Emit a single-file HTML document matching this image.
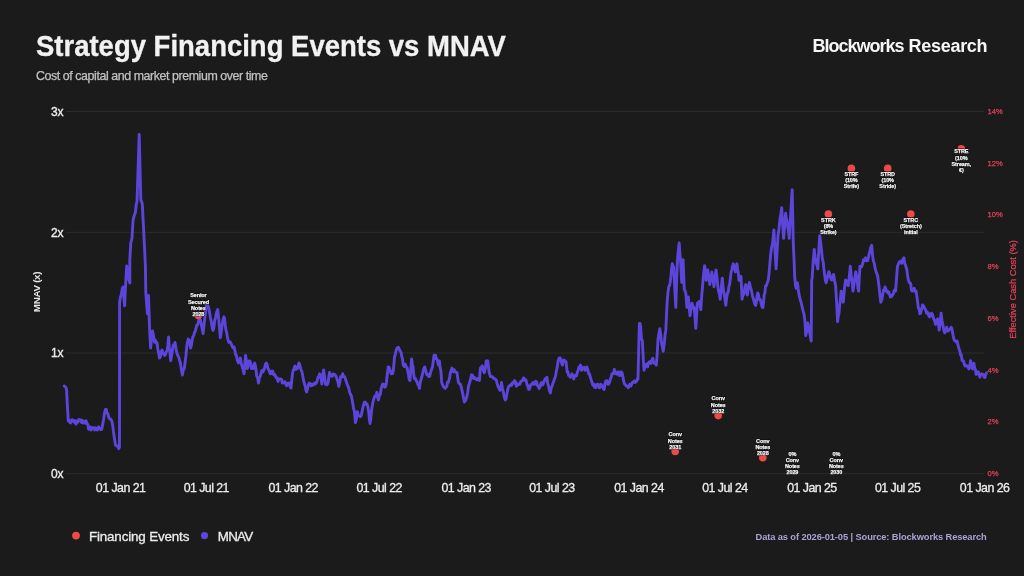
<!DOCTYPE html>
<html><head><meta charset="utf-8"><title>Strategy Financing Events vs MNAV</title>
<style>
html,body{margin:0;padding:0;background:#1b1b1b;}
body{width:1024px;height:576px;overflow:hidden;position:relative;font-family:"Liberation Sans",Arial,sans-serif;}
svg{position:absolute;left:0;top:0;display:block;}
.ml{font-family:"Liberation Sans",Arial,sans-serif;font-weight:700;font-size:5.5px;letter-spacing:-0.1px;fill:#000;stroke:#000;stroke-width:1.1px;stroke-linejoin:round;}
.mw{font-family:"Liberation Sans",Arial,sans-serif;font-weight:700;font-size:5.5px;letter-spacing:-0.1px;fill:#f6f6f6;stroke:#f6f6f6;stroke-width:0.25px;stroke-linejoin:round;}
</style></head>
<body>
<svg width="1024" height="576" viewBox="0 0 1024 576">
<rect x="0" y="0" width="1024" height="576" fill="#1b1b1b"/>
<text transform="translate(36,55.8) scale(1,1.09)" x="0" y="0" font-family="Liberation Sans, Arial, sans-serif" font-weight="700" font-size="27.5" stroke="#f2f2f2" stroke-width="0.3" fill="#f2f2f2">Strategy Financing Events vs MNAV</text>
<text x="36" y="79.6" font-family="Liberation Sans, Arial, sans-serif" font-size="12.4" letter-spacing="-0.42" stroke="#c2c2c2" stroke-width="0.25" fill="#c2c2c2">Cost of capital and market premium over time</text>
<text y="52" font-family="Liberation Sans, Arial, sans-serif" font-weight="700" font-size="18" fill="#f6f6f6"><tspan x="812.6" letter-spacing="-1.0">Blockworks</tspan> <tspan x="908.6" letter-spacing="-0.3">Research</tspan></text>

<line x1="66" y1="111.5" x2="984" y2="111.5" stroke="#2c2c2c" stroke-width="1"/>
<line x1="66" y1="232.3" x2="984" y2="232.3" stroke="#2c2c2c" stroke-width="1"/>
<line x1="66" y1="353.0" x2="984" y2="353.0" stroke="#2c2c2c" stroke-width="1"/>
<line x1="66" y1="473.7" x2="984" y2="473.7" stroke="#2c2c2c" stroke-width="1"/>
<text x="63.6" y="115.8" text-anchor="end" font-family="Liberation Sans, Arial, sans-serif" font-size="12" stroke="#ececec" stroke-width="0.35" fill="#ececec">3x</text>
<text x="63.6" y="236.6" text-anchor="end" font-family="Liberation Sans, Arial, sans-serif" font-size="12" stroke="#ececec" stroke-width="0.35" fill="#ececec">2x</text>
<text x="63.6" y="357.3" text-anchor="end" font-family="Liberation Sans, Arial, sans-serif" font-size="12" stroke="#ececec" stroke-width="0.35" fill="#ececec">1x</text>
<text x="63.6" y="478.0" text-anchor="end" font-family="Liberation Sans, Arial, sans-serif" font-size="12" stroke="#ececec" stroke-width="0.35" fill="#ececec">0x</text>
<text x="987.6" y="476.0" font-family="Liberation Sans, Arial, sans-serif" font-size="7.6" stroke="#e0405a" stroke-width="0.25" fill="#e0405a">0%</text>
<text x="987.6" y="424.3" font-family="Liberation Sans, Arial, sans-serif" font-size="7.6" stroke="#e0405a" stroke-width="0.25" fill="#e0405a">2%</text>
<text x="987.6" y="372.5" font-family="Liberation Sans, Arial, sans-serif" font-size="7.6" stroke="#e0405a" stroke-width="0.25" fill="#e0405a">4%</text>
<text x="987.6" y="320.8" font-family="Liberation Sans, Arial, sans-serif" font-size="7.6" stroke="#e0405a" stroke-width="0.25" fill="#e0405a">6%</text>
<text x="987.6" y="269.0" font-family="Liberation Sans, Arial, sans-serif" font-size="7.6" stroke="#e0405a" stroke-width="0.25" fill="#e0405a">8%</text>
<text x="987.6" y="217.3" font-family="Liberation Sans, Arial, sans-serif" font-size="7.6" stroke="#e0405a" stroke-width="0.25" fill="#e0405a">10%</text>
<text x="987.6" y="165.5" font-family="Liberation Sans, Arial, sans-serif" font-size="7.6" stroke="#e0405a" stroke-width="0.25" fill="#e0405a">12%</text>
<text x="987.6" y="113.8" font-family="Liberation Sans, Arial, sans-serif" font-size="7.6" stroke="#e0405a" stroke-width="0.25" fill="#e0405a">14%</text>
<text transform="translate(40,292) rotate(-90)" text-anchor="middle" font-family="Liberation Sans, Arial, sans-serif" font-weight="700" font-size="9.8" letter-spacing="-0.3" fill="#e8e8e8">MNAV (x)</text>
<text transform="translate(1016.4,289.4) rotate(-90)" text-anchor="middle" font-family="Liberation Sans, Arial, sans-serif" font-size="9.3" stroke="#e0405a" stroke-width="0.25" fill="#e0405a">Effective Cash Cost (%)</text>
<text x="120.6" y="491.6" text-anchor="middle" font-family="Liberation Sans, Arial, sans-serif" font-size="12.4" letter-spacing="-0.55" stroke="#ececec" stroke-width="0.3" fill="#ececec">01 Jan 21</text>
<text x="206.3" y="491.6" text-anchor="middle" font-family="Liberation Sans, Arial, sans-serif" font-size="12.4" letter-spacing="-0.55" stroke="#ececec" stroke-width="0.3" fill="#ececec">01 Jul 21</text>
<text x="293.2" y="491.6" text-anchor="middle" font-family="Liberation Sans, Arial, sans-serif" font-size="12.4" letter-spacing="-0.55" stroke="#ececec" stroke-width="0.3" fill="#ececec">01 Jan 22</text>
<text x="379.2" y="491.6" text-anchor="middle" font-family="Liberation Sans, Arial, sans-serif" font-size="12.4" letter-spacing="-0.55" stroke="#ececec" stroke-width="0.3" fill="#ececec">01 Jul 22</text>
<text x="466.2" y="491.6" text-anchor="middle" font-family="Liberation Sans, Arial, sans-serif" font-size="12.4" letter-spacing="-0.55" stroke="#ececec" stroke-width="0.3" fill="#ececec">01 Jan 23</text>
<text x="551.9" y="491.6" text-anchor="middle" font-family="Liberation Sans, Arial, sans-serif" font-size="12.4" letter-spacing="-0.55" stroke="#ececec" stroke-width="0.3" fill="#ececec">01 Jul 23</text>
<text x="639.0" y="491.6" text-anchor="middle" font-family="Liberation Sans, Arial, sans-serif" font-size="12.4" letter-spacing="-0.55" stroke="#ececec" stroke-width="0.3" fill="#ececec">01 Jan 24</text>
<text x="724.9" y="491.6" text-anchor="middle" font-family="Liberation Sans, Arial, sans-serif" font-size="12.4" letter-spacing="-0.55" stroke="#ececec" stroke-width="0.3" fill="#ececec">01 Jul 24</text>
<text x="811.9" y="491.6" text-anchor="middle" font-family="Liberation Sans, Arial, sans-serif" font-size="12.4" letter-spacing="-0.55" stroke="#ececec" stroke-width="0.3" fill="#ececec">01 Jan 25</text>
<text x="897.6" y="491.6" text-anchor="middle" font-family="Liberation Sans, Arial, sans-serif" font-size="12.4" letter-spacing="-0.55" stroke="#ececec" stroke-width="0.3" fill="#ececec">01 Jul 25</text>
<text x="984.6" y="491.6" text-anchor="middle" font-family="Liberation Sans, Arial, sans-serif" font-size="12.4" letter-spacing="-0.55" stroke="#ececec" stroke-width="0.3" fill="#ececec">01 Jan 26</text>
<path d="M64.3,386.0 L65.1,386.6 L65.8,387.1 L66.6,390.0 L67.4,406.1 L68.3,420.8 L69.0,419.7 L69.7,422.4 L70.4,423.0 L71.3,421.7 L72.1,419.7 L73.0,421.0 L73.8,421.8 L74.5,420.5 L75.2,423.0 L76.0,424.0 L77.0,421.1 L78.0,422.0 L78.9,419.5 L79.9,420.3 L80.8,420.0 L81.5,422.4 L82.3,420.3 L83.0,423.0 L83.8,421.2 L84.5,422.5 L85.2,423.3 L86.0,420.8 L86.9,423.3 L87.8,424.6 L88.6,429.3 L89.5,429.4 L90.3,426.9 L91.2,430.0 L92.0,428.0 L92.9,427.7 L93.8,427.8 L94.7,430.0 L95.5,427.8 L96.3,428.2 L97.2,429.9 L98.0,428.0 L98.7,426.9 L99.5,428.9 L100.2,429.5 L101.0,428.6 L101.7,429.4 L102.6,424.9 L103.5,420.0 L104.5,412.8 L105.5,409.5 L106.2,409.3 L107.0,413.0 L107.8,413.7 L108.6,417.0 L109.5,418.8 L110.5,419.0 L111.2,420.0 L112.0,421.6 L112.8,426.0 L113.5,432.0 L114.5,438.9 L115.5,445.0 L116.4,445.7 L117.3,445.9 L118.2,447.7 L118.8,448.6 L119.5,447.0 L119.6,303.0 L120.4,297.5 L121.2,294.9 L122.1,289.4 L122.9,287.0 L123.8,296.7 L124.6,305.8 L125.6,285.0 L126.7,266.0 L127.5,270.4 L128.2,276.2 L129.0,279.8 L129.8,283.0 L129.8,260.0 L130.8,243.0 L132.0,238.0 L133.0,221.0 L133.8,216.9 L134.6,214.6 L135.4,212.5 L136.2,204.5 L137.0,202.0 L139.2,134.4 L140.8,200.0 L141.6,201.6 L142.3,204.0 L144.4,245.0 L145.4,266.0 L145.8,293.0 L146.7,304.6 L147.5,314.0 L148.5,295.4 L149.6,328.8 L150.6,348.0 L151.6,338.0 L152.6,331.0 L153.6,336.5 L154.5,342.0 L155.3,340.1 L156.2,343.1 L157.0,342.5 L157.8,348.8 L158.7,353.2 L159.5,358.0 L160.3,357.0 L161.2,351.8 L162.0,350.0 L162.9,352.7 L163.8,354.1 L164.7,355.5 L165.6,354.0 L166.4,351.6 L167.3,350.0 L167.9,345.0 L168.6,337.0 L169.3,346.9 L170.0,352.7 L170.7,360.7 L171.6,355.6 L172.6,349.0 L173.4,344.9 L174.2,345.6 L175.0,342.5 L175.7,346.4 L176.4,351.2 L177.1,353.7 L177.8,355.5 L178.7,357.1 L179.5,360.0 L180.4,363.0 L181.4,369.7 L182.4,375.0 L183.4,369.6 L184.3,368.5 L185.1,362.1 L185.9,356.0 L186.7,347.4 L187.5,341.8 L188.2,339.1 L189.0,339.8 L189.8,341.9 L190.6,348.0 L191.3,345.6 L192.1,340.8 L192.9,336.6 L193.7,335.6 L194.5,332.4 L195.3,331.4 L196.1,327.8 L196.8,325.2 L197.6,325.0 L198.4,321.5 L199.6,318.5 L200.6,320.4 L201.5,326.0 L202.3,329.5 L203.1,333.5 L203.9,326.0 L204.8,318.0 L205.5,313.4 L206.2,305.4 L206.9,307.1 L207.6,307.7 L208.3,306.4 L209.0,309.3 L209.8,313.8 L210.5,318.0 L211.3,321.5 L212.2,328.0 L213.0,330.4 L213.8,328.3 L214.7,320.6 L215.5,318.0 L216.2,313.7 L217.0,311.2 L217.7,309.5 L218.3,314.6 L219.0,322.0 L219.7,329.8 L220.3,337.7 L221.2,332.2 L222.0,326.0 L222.9,320.4 L223.9,316.8 L224.6,319.0 L225.3,325.2 L226.0,330.0 L226.7,332.7 L227.4,336.8 L228.1,339.8 L228.8,342.4 L229.5,342.0 L230.2,341.8 L231.0,343.4 L231.8,345.4 L232.5,347.2 L233.3,348.0 L234.1,347.0 L234.8,350.0 L235.6,354.5 L236.4,355.5 L237.4,360.5 L238.4,363.0 L239.4,362.1 L240.3,358.0 L241.2,363.3 L242.0,366.0 L243.0,369.4 L244.0,373.8 L244.8,364.2 L245.5,355.5 L246.4,360.3 L247.3,368.5 L248.0,366.5 L248.7,361.4 L249.4,360.7 L250.1,361.4 L250.8,364.6 L251.5,368.5 L252.4,367.0 L253.3,368.5 L253.9,365.0 L254.6,363.0 L255.3,365.4 L256.0,369.5 L256.7,376.0 L257.6,378.0 L258.5,383.0 L259.4,377.7 L260.3,376.0 L261.0,373.7 L261.7,370.6 L262.4,371.0 L263.1,371.8 L263.8,369.8 L264.5,368.5 L265.4,364.2 L266.3,363.0 L267.1,364.7 L268.0,368.5 L268.7,369.6 L269.5,371.4 L270.2,373.8 L271.1,371.2 L271.9,373.5 L272.8,371.0 L273.7,374.8 L274.5,374.2 L275.4,376.0 L276.3,377.8 L277.1,377.8 L278.0,381.5 L278.9,378.9 L279.7,379.1 L280.6,379.0 L281.5,379.3 L282.3,383.1 L283.2,383.0 L284.1,381.8 L284.9,381.6 L285.8,384.0 L286.7,385.7 L287.5,383.5 L288.4,383.0 L289.3,383.1 L290.1,386.5 L291.0,388.0 L292.0,377.4 L293.0,371.0 L294.0,368.6 L295.0,366.0 L295.9,369.4 L296.8,368.5 L297.5,368.3 L298.2,365.7 L298.9,363.0 L299.6,364.3 L300.3,367.1 L301.0,370.0 L301.9,371.5 L302.8,376.0 L303.7,381.2 L304.6,384.0 L305.3,386.8 L306.0,390.6 L306.7,392.0 L307.6,388.3 L308.4,384.8 L309.3,383.0 L310.2,384.7 L311.1,385.8 L312.0,384.0 L312.8,385.2 L313.7,384.7 L314.5,383.0 L315.3,383.9 L316.2,383.1 L317.0,381.5 L317.9,377.7 L318.8,376.4 L319.7,373.8 L320.4,376.5 L321.1,378.5 L321.8,384.0 L322.7,374.9 L323.6,370.0 L324.5,376.0 L325.4,384.0 L326.1,382.9 L326.8,384.8 L327.5,384.0 L328.2,382.1 L328.9,376.0 L329.6,372.4 L330.0,373.7 L330.8,375.8 L331.6,376.2 L332.3,376.3 L333.1,373.9 L333.9,374.7 L334.6,374.4 L335.4,375.4 L336.1,376.3 L336.8,378.6 L337.8,381.2 L338.8,386.4 L339.8,382.0 L340.7,376.6 L341.7,376.9 L342.7,373.7 L343.6,376.6 L344.6,376.6 L345.6,379.5 L346.6,382.5 L347.6,385.6 L348.6,387.4 L349.6,392.1 L350.5,394.2 L351.5,396.3 L352.5,402.0 L353.4,407.6 L354.4,411.8 L355.4,422.5 L356.4,419.0 L357.3,411.8 L358.3,415.0 L359.3,415.7 L360.3,416.8 L361.2,415.7 L362.2,410.8 L363.2,406.0 L364.2,402.6 L365.2,402.0 L366.1,404.3 L367.1,404.0 L367.9,407.2 L368.7,411.8 L369.4,419.0 L370.0,423.5 L370.7,419.7 L371.4,411.8 L372.2,406.4 L373.0,402.0 L373.9,398.6 L374.9,396.0 L375.9,396.1 L376.9,392.3 L377.6,397.1 L378.4,400.0 L379.4,395.6 L380.4,394.2 L381.1,388.7 L381.8,386.4 L382.8,383.9 L383.7,384.5 L384.7,387.2 L385.7,386.4 L386.4,382.8 L387.0,376.6 L388.2,366.9 L389.2,367.3 L390.2,370.8 L391.1,373.7 L392.1,373.7 L392.8,373.4 L393.5,368.8 L394.5,357.0 L395.4,353.8 L396.4,349.3 L397.4,347.6 L398.4,347.3 L399.4,349.5 L400.3,351.2 L401.1,352.5 L401.9,357.0 L402.5,358.9 L403.2,365.0 L404.2,366.6 L405.2,364.0 L406.1,366.6 L407.1,367.9 L407.8,371.4 L408.5,374.7 L409.2,379.5 L410.0,380.5 L410.8,369.5 L411.6,359.0 L412.3,364.6 L413.0,366.9 L413.7,374.2 L414.4,378.6 L415.2,378.3 L416.0,380.5 L416.9,381.4 L417.9,384.5 L418.7,385.5 L419.5,388.4 L420.1,383.3 L420.8,380.5 L421.8,377.0 L422.8,372.7 L423.8,368.7 L424.7,366.9 L425.7,370.4 L426.7,374.7 L427.6,374.0 L428.6,376.6 L429.6,376.5 L430.6,372.7 L431.6,369.2 L432.5,366.9 L433.3,360.9 L434.1,355.2 L434.8,355.6 L435.5,355.2 L436.2,358.9 L437.0,359.0 L437.7,361.7 L438.4,365.0 L439.4,361.0 L440.1,367.7 L440.9,370.8 L441.7,382.5 L442.5,384.5 L443.3,386.4 L444.2,387.5 L445.2,388.4 L446.0,387.5 L446.8,386.4 L447.5,382.3 L448.2,382.5 L448.9,380.3 L449.5,378.6 L450.3,373.3 L451.1,370.8 L451.9,368.1 L452.7,369.8 L453.5,371.8 L454.2,369.7 L455.0,371.8 L456.0,372.1 L457.0,372.7 L457.8,378.6 L458.5,382.5 L459.5,383.7 L460.5,384.5 L461.4,387.6 L462.4,392.3 L463.4,397.2 L464.4,402.0 L465.0,401.2 L465.7,400.0 L466.7,397.4 L467.7,392.3 L468.6,385.7 L469.6,382.5 L470.6,378.9 L471.6,374.7 L472.6,375.5 L473.6,378.6 L474.6,377.6 L475.5,378.6 L476.5,379.8 L477.5,378.6 L478.4,379.6 L479.4,380.5 L480.4,367.9 L481.4,367.2 L482.3,365.9 L483.3,370.4 L484.3,372.7 L485.3,368.7 L486.2,361.0 L487.0,360.8 L487.8,361.0 L488.5,367.3 L489.2,372.7 L489.9,374.7 L490.5,376.6 L491.5,376.7 L492.5,376.6 L493.5,378.4 L494.5,378.6 L495.4,379.3 L496.4,380.5 L497.2,383.6 L498.0,386.4 L499.0,388.3 L500.0,390.3 L500.8,388.3 L501.5,382.5 L502.4,388.3 L503.4,392.3 L504.4,397.8 L505.4,400.0 L506.1,399.0 L506.8,394.2 L507.8,389.2 L508.7,386.4 L509.7,385.7 L510.7,384.5 L511.6,385.5 L512.6,382.5 L513.6,383.0 L514.6,380.5 L515.5,381.9 L516.5,386.4 L517.5,383.8 L518.5,384.5 L519.2,384.1 L520.0,384.2 L520.9,381.2 L521.7,380.8 L522.6,380.8 L523.5,378.0 L524.3,379.0 L525.1,380.2 L526.0,380.0 L526.9,384.2 L527.8,386.0 L528.6,389.4 L529.5,389.4 L530.4,385.3 L531.3,384.2 L532.1,384.3 L533.0,382.5 L533.9,384.1 L534.8,384.2 L535.6,381.3 L536.5,381.6 L537.4,385.5 L538.2,386.0 L539.1,388.5 L540.0,386.8 L540.9,383.4 L541.7,382.5 L542.5,384.9 L543.4,383.4 L544.3,380.8 L545.2,379.0 L546.0,378.1 L546.9,377.3 L547.8,383.8 L548.6,386.0 L549.5,391.0 L550.4,393.0 L551.2,388.0 L552.1,386.0 L553.0,383.1 L553.9,380.8 L554.8,378.3 L555.6,375.6 L556.5,370.5 L557.3,366.9 L558.1,361.2 L559.0,358.2 L559.9,357.8 L560.8,359.0 L561.6,363.0 L562.5,365.1 L563.4,360.4 L564.3,360.0 L565.1,361.1 L566.0,361.7 L566.6,366.6 L567.2,372.0 L567.9,371.7 L568.6,375.6 L569.5,375.7 L570.3,377.3 L571.1,376.1 L572.0,373.8 L572.9,376.5 L573.8,379.0 L574.7,375.4 L575.6,375.6 L576.5,375.9 L577.3,372.0 L578.1,370.7 L579.0,366.9 L579.7,368.0 L580.4,365.0 L581.0,365.9 L581.6,370.3 L582.5,368.4 L583.4,368.6 L584.2,367.4 L585.1,370.3 L586.0,369.8 L586.8,366.9 L587.7,369.3 L588.6,373.8 L589.5,373.9 L590.3,377.3 L591.1,379.6 L592.0,382.5 L592.9,385.2 L593.8,384.2 L594.6,387.4 L595.5,387.7 L596.4,384.9 L597.3,384.2 L598.1,384.4 L599.0,387.7 L599.9,387.8 L600.7,384.2 L601.6,385.4 L602.5,386.0 L603.4,388.6 L604.2,389.4 L605.0,383.3 L605.9,380.8 L606.8,380.6 L607.7,384.2 L608.5,384.2 L609.4,382.5 L610.2,379.6 L611.1,377.3 L612.0,373.7 L612.9,373.8 L613.6,373.6 L614.3,369.5 L615.1,372.2 L616.0,373.8 L616.9,374.2 L617.7,372.0 L618.6,372.0 L619.5,375.6 L620.4,375.4 L621.2,372.0 L622.1,372.7 L623.0,377.3 L623.9,382.3 L624.7,384.2 L625.5,384.9 L626.4,386.0 L627.3,386.1 L628.2,387.7 L629.0,386.2 L629.9,384.2 L630.8,386.1 L631.6,384.2 L632.5,382.3 L633.4,382.5 L634.2,380.9 L635.1,382.5 L636.0,381.8 L636.8,380.8 L637.4,378.7 L638.0,379.0 L638.9,340.8 L639.4,323.5 L640.0,323.5 L640.7,327.0 L641.5,339.0 L642.4,340.8 L643.3,360.0 L644.1,370.3 L645.0,366.2 L645.9,365.0 L646.8,364.0 L647.6,366.9 L648.5,363.0 L649.3,361.7 L650.1,361.7 L651.0,363.4 L651.9,359.9 L652.8,358.2 L653.6,361.9 L654.5,363.4 L655.4,363.3 L656.3,365.0 L657.2,354.7 L658.0,339.0 L658.9,333.9 L659.8,328.7 L660.6,334.2 L661.5,342.6 L662.4,346.3 L663.2,351.2 L664.4,342.6 L665.1,334.4 L665.8,330.4 L666.5,315.8 L667.1,303.3 L667.9,292.9 L668.8,286.7 L669.5,285.6 L670.2,282.5 L670.9,276.5 L671.6,268.6 L672.3,263.8 L673.0,265.8 L673.8,268.0 L674.4,282.4 L675.0,293.0 L675.8,307.5 L676.7,278.3 L677.5,259.6 L678.4,249.6 L679.2,243.0 L679.9,253.8 L680.6,261.7 L681.7,282.5 L682.4,270.8 L683.1,259.6 L684.2,288.8 L685.0,290.9 L685.8,293.0 L686.9,307.5 L687.6,303.7 L688.3,297.0 L689.1,305.9 L690.0,315.8 L691.0,309.6 L692.0,303.3 L692.7,305.5 L693.5,308.2 L694.2,307.5 L695.0,317.2 L695.8,328.3 L696.5,317.3 L697.3,303.3 L698.0,303.5 L698.7,302.5 L699.4,301.2 L700.1,305.0 L700.8,309.6 L701.6,297.5 L702.5,286.7 L703.2,277.8 L703.9,271.1 L704.6,265.8 L705.4,271.2 L706.2,280.4 L707.0,276.3 L707.7,270.0 L708.4,273.8 L709.1,278.3 L709.8,284.6 L710.5,278.6 L711.2,277.7 L711.9,272.0 L712.6,278.5 L713.3,282.6 L714.0,286.7 L715.0,277.4 L716.0,270.0 L716.7,275.1 L717.4,281.6 L718.1,288.8 L718.8,292.1 L719.5,294.2 L720.2,299.2 L720.9,292.0 L721.6,284.2 L722.3,278.3 L723.0,285.9 L723.7,291.5 L724.4,295.0 L725.1,300.4 L725.8,305.4 L726.6,298.0 L727.5,292.9 L728.2,292.2 L728.9,286.5 L729.6,284.6 L730.3,279.1 L731.0,272.7 L731.7,270.0 L732.5,266.4 L733.3,263.8 L734.0,266.4 L734.7,269.3 L735.4,272.0 L736.1,266.6 L736.9,263.8 L737.6,269.3 L738.3,272.7 L739.0,280.4 L740.0,277.3 L741.0,276.2 L742.1,299.2 L742.8,295.3 L743.5,294.6 L744.2,292.9 L745.0,286.7 L745.8,284.6 L746.5,287.7 L747.3,295.0 L748.0,290.0 L748.7,285.5 L749.4,282.5 L750.1,285.6 L750.8,288.2 L751.5,290.8 L752.5,296.1 L753.5,299.2 L754.2,302.0 L754.9,304.3 L755.6,305.4 L756.3,302.9 L757.0,296.6 L757.7,292.9 L758.4,294.2 L759.1,299.2 L759.8,299.2 L760.4,299.6 L761.0,303.0 L761.9,306.4 L762.8,307.8 L763.5,302.9 L764.2,294.7 L764.9,292.6 L765.6,285.6 L766.5,285.5 L767.4,282.4 L768.3,280.0 L769.1,272.7 L769.8,264.7 L770.6,255.0 L771.5,247.9 L772.5,243.9 L773.2,237.1 L773.9,230.0 L774.6,243.0 L775.4,257.4 L776.1,268.9 L777.0,253.6 L778.0,235.6 L779.0,228.7 L780.0,218.9 L780.9,213.7 L781.7,207.8 L782.7,224.8 L783.6,238.3 L784.6,226.6 L785.6,213.3 L786.3,218.8 L787.1,221.4 L787.8,227.2 L788.5,230.7 L789.2,238.3 L789.9,225.5 L790.6,216.0 L791.4,202.2 L792.2,189.7 L793.3,243.9 L794.0,258.8 L794.7,277.2 L795.4,284.2 L796.1,288.3 L796.8,285.8 L797.5,282.8 L798.2,288.9 L798.9,293.9 L799.6,297.2 L800.4,300.2 L801.1,302.2 L802.0,306.4 L803.0,310.6 L804.0,314.0 L805.0,321.7 L805.7,335.6 L806.4,332.7 L807.1,328.3 L807.8,323.0 L808.5,326.5 L809.2,330.0 L809.9,333.8 L810.6,338.0 L811.2,341.0 L811.7,280.0 L812.2,277.2 L813.2,261.4 L814.2,249.4 L815.2,257.4 L816.1,263.3 L817.0,265.0 L817.8,268.9 L818.8,250.4 L819.7,235.6 L820.7,242.9 L821.7,252.2 L822.4,258.8 L823.2,262.0 L823.9,268.9 L824.6,274.6 L825.4,280.3 L826.1,282.8 L827.0,279.1 L828.0,274.9 L828.9,271.7 L829.6,273.7 L830.3,276.7 L831.0,279.1 L831.7,280.0 L832.7,277.7 L833.6,274.4 L834.6,280.6 L835.6,285.6 L836.6,301.8 L837.6,321.7 L838.3,315.9 L839.0,313.3 L839.7,304.8 L840.4,299.6 L841.1,291.1 L841.8,293.9 L842.6,298.8 L843.3,302.2 L844.1,292.7 L844.8,285.5 L845.6,280.0 L846.5,280.8 L847.4,284.5 L848.3,285.6 L849.3,276.7 L850.3,266.1 L851.2,275.2 L852.1,281.8 L853.0,291.1 L853.9,284.7 L854.9,278.0 L855.8,271.7 L856.5,276.4 L857.2,279.7 L857.9,288.0 L858.6,291.1 L859.3,277.3 L860.0,266.1 L860.9,267.3 L861.9,266.2 L862.8,263.3 L863.5,259.8 L864.2,260.4 L864.9,260.6 L865.6,257.8 L866.3,260.8 L867.1,259.4 L867.8,260.6 L868.8,255.4 L869.7,252.2 L870.7,247.5 L871.7,245.3 L872.5,254.9 L873.3,260.6 L874.3,263.5 L875.3,268.9 L876.2,272.0 L877.2,274.4 L878.0,278.4 L878.9,285.6 L879.8,294.0 L880.8,302.2 L881.8,300.0 L882.8,293.9 L883.5,290.0 L884.3,290.6 L885.0,286.9 L885.7,288.3 L886.5,291.4 L887.2,291.1 L887.9,292.9 L888.7,291.8 L889.4,293.9 L890.4,297.0 L891.4,296.7 L892.3,295.2 L893.3,293.9 L894.1,290.9 L894.8,289.8 L895.6,291.1 L896.5,278.6 L897.5,266.1 L898.2,264.5 L899.0,262.4 L899.7,261.9 L900.7,261.0 L901.7,263.3 L902.4,260.8 L903.2,258.8 L903.9,257.8 L904.8,263.4 L905.8,266.1 L906.8,269.5 L907.8,277.2 L908.5,280.2 L909.3,282.4 L910.0,282.8 L910.7,283.9 L911.5,290.2 L912.2,291.1 L913.2,290.6 L914.2,288.3 L915.2,291.5 L916.1,291.1 L916.8,295.7 L917.6,301.7 L918.3,307.8 L919.1,309.2 L919.8,313.7 L920.6,313.3 L921.5,309.5 L922.5,305.0 L923.5,305.8 L924.4,307.8 L925.2,309.3 L925.9,310.5 L926.7,313.3 L927.4,312.2 L928.2,313.4 L928.9,316.1 L929.6,316.9 L930.3,313.8 L931.0,315.9 L931.7,313.3 L932.7,315.0 L933.6,318.9 L934.6,320.6 L935.6,324.4 L936.3,322.6 L937.1,319.4 L937.8,318.9 L938.5,323.9 L939.2,330.0 L940.2,323.7 L941.1,313.3 L942.0,320.5 L942.8,324.4 L943.8,330.0 L944.7,332.8 L945.7,330.6 L946.7,327.2 L947.4,330.0 L948.2,331.0 L948.9,330.0 L949.6,329.3 L950.4,329.1 L951.1,327.2 L952.1,329.4 L953.1,335.6 L954.0,339.4 L955.0,341.1 L955.7,340.9 L956.5,342.2 L957.2,341.1 L958.2,345.9 L959.2,349.4 L959.9,351.3 L960.6,355.0 L961.3,354.9 L962.1,360.6 L962.8,360.6 L963.5,360.8 L964.3,364.1 L965.0,366.1 L966.0,365.4 L966.9,366.1 L967.9,366.6 L968.9,368.9 L969.8,365.8 L970.6,360.6 L971.5,366.8 L972.5,368.9 L973.2,365.0 L973.9,363.3 L974.6,367.7 L975.4,369.8 L976.1,374.4 L977.1,373.3 L978.1,371.7 L979.0,374.0 L980.0,377.2 L980.7,374.8 L981.5,373.8 L982.2,374.4 L983.2,374.5 L984.2,377.2 L984.9,377.6 L985.7,374.5 L986.4,373.1" fill="none" stroke="#5b45da" stroke-width="2.9" stroke-linejoin="round" stroke-linecap="round"/>
<defs><clipPath id="pa"><rect x="60" y="100" width="930" height="373.7"/></clipPath></defs>
<circle cx="198.4" cy="315.6" r="3.8" fill="#ee4848" clip-path="url(#pa)"/>
<circle cx="675.2" cy="451.5" r="3.8" fill="#ee4848" clip-path="url(#pa)"/>
<circle cx="718.2" cy="415.6" r="3.8" fill="#ee4848" clip-path="url(#pa)"/>
<circle cx="762.8" cy="457.8" r="3.8" fill="#ee4848" clip-path="url(#pa)"/>
<circle cx="792.4" cy="474.1" r="3.8" fill="#ee4848" clip-path="url(#pa)"/>
<circle cx="836.3" cy="474.1" r="3.8" fill="#ee4848" clip-path="url(#pa)"/>
<circle cx="828.4" cy="214.0" r="3.8" fill="#ee4848" clip-path="url(#pa)"/>
<circle cx="851.4" cy="168.4" r="3.8" fill="#ee4848" clip-path="url(#pa)"/>
<circle cx="887.7" cy="168.4" r="3.8" fill="#ee4848" clip-path="url(#pa)"/>
<circle cx="910.8" cy="214.0" r="3.8" fill="#ee4848" clip-path="url(#pa)"/>
<circle cx="961.3" cy="148.8" r="3.8" fill="#ee4848" clip-path="url(#pa)"/>
<text class="ml" x="198.4" y="297.3" text-anchor="middle">Senior</text>
<text class="ml" x="198.4" y="303.5" text-anchor="middle">Secured</text>
<text class="ml" x="198.4" y="309.7" text-anchor="middle">Notes</text>
<text class="ml" x="198.4" y="315.9" text-anchor="middle">2028</text>
<text class="mw" x="198.4" y="297.3" text-anchor="middle">Senior</text>
<text class="mw" x="198.4" y="303.5" text-anchor="middle">Secured</text>
<text class="mw" x="198.4" y="309.7" text-anchor="middle">Notes</text>
<text class="mw" x="198.4" y="315.9" text-anchor="middle">2028</text>
<text class="ml" x="675.2" y="436.3" text-anchor="middle">Conv</text>
<text class="ml" x="675.2" y="442.5" text-anchor="middle">Notes</text>
<text class="ml" x="675.2" y="448.7" text-anchor="middle">2031</text>
<text class="mw" x="675.2" y="436.3" text-anchor="middle">Conv</text>
<text class="mw" x="675.2" y="442.5" text-anchor="middle">Notes</text>
<text class="mw" x="675.2" y="448.7" text-anchor="middle">2031</text>
<text class="ml" x="718.2" y="400.4" text-anchor="middle">Conv</text>
<text class="ml" x="718.2" y="406.6" text-anchor="middle">Notes</text>
<text class="ml" x="718.2" y="412.8" text-anchor="middle">2032</text>
<text class="mw" x="718.2" y="400.4" text-anchor="middle">Conv</text>
<text class="mw" x="718.2" y="406.6" text-anchor="middle">Notes</text>
<text class="mw" x="718.2" y="412.8" text-anchor="middle">2032</text>
<text class="ml" x="762.8" y="442.6" text-anchor="middle">Conv</text>
<text class="ml" x="762.8" y="448.8" text-anchor="middle">Notes</text>
<text class="ml" x="762.8" y="455.0" text-anchor="middle">2028</text>
<text class="mw" x="762.8" y="442.6" text-anchor="middle">Conv</text>
<text class="mw" x="762.8" y="448.8" text-anchor="middle">Notes</text>
<text class="mw" x="762.8" y="455.0" text-anchor="middle">2028</text>
<text class="ml" x="792.4" y="455.8" text-anchor="middle">0%</text>
<text class="ml" x="792.4" y="462.0" text-anchor="middle">Conv</text>
<text class="ml" x="792.4" y="468.2" text-anchor="middle">Notes</text>
<text class="ml" x="792.4" y="474.4" text-anchor="middle">2029</text>
<text class="mw" x="792.4" y="455.8" text-anchor="middle">0%</text>
<text class="mw" x="792.4" y="462.0" text-anchor="middle">Conv</text>
<text class="mw" x="792.4" y="468.2" text-anchor="middle">Notes</text>
<text class="mw" x="792.4" y="474.4" text-anchor="middle">2029</text>
<text class="ml" x="836.3" y="455.8" text-anchor="middle">0%</text>
<text class="ml" x="836.3" y="462.0" text-anchor="middle">Conv</text>
<text class="ml" x="836.3" y="468.2" text-anchor="middle">Notes</text>
<text class="ml" x="836.3" y="474.4" text-anchor="middle">2030</text>
<text class="mw" x="836.3" y="455.8" text-anchor="middle">0%</text>
<text class="mw" x="836.3" y="462.0" text-anchor="middle">Conv</text>
<text class="mw" x="836.3" y="468.2" text-anchor="middle">Notes</text>
<text class="mw" x="836.3" y="474.4" text-anchor="middle">2030</text>
<text class="ml" x="828.4" y="221.6" text-anchor="middle">STRK</text>
<text class="ml" x="828.4" y="227.8" text-anchor="middle">(8%</text>
<text class="ml" x="828.4" y="234.0" text-anchor="middle">Strike)</text>
<text class="mw" x="828.4" y="221.6" text-anchor="middle">STRK</text>
<text class="mw" x="828.4" y="227.8" text-anchor="middle">(8%</text>
<text class="mw" x="828.4" y="234.0" text-anchor="middle">Strike)</text>
<text class="ml" x="851.4" y="176.0" text-anchor="middle">STRF</text>
<text class="ml" x="851.4" y="182.2" text-anchor="middle">(10%</text>
<text class="ml" x="851.4" y="188.4" text-anchor="middle">Strife)</text>
<text class="mw" x="851.4" y="176.0" text-anchor="middle">STRF</text>
<text class="mw" x="851.4" y="182.2" text-anchor="middle">(10%</text>
<text class="mw" x="851.4" y="188.4" text-anchor="middle">Strife)</text>
<text class="ml" x="887.7" y="176.0" text-anchor="middle">STRD</text>
<text class="ml" x="887.7" y="182.2" text-anchor="middle">(10%</text>
<text class="ml" x="887.7" y="188.4" text-anchor="middle">Stride)</text>
<text class="mw" x="887.7" y="176.0" text-anchor="middle">STRD</text>
<text class="mw" x="887.7" y="182.2" text-anchor="middle">(10%</text>
<text class="mw" x="887.7" y="188.4" text-anchor="middle">Stride)</text>
<text class="ml" x="910.8" y="221.6" text-anchor="middle">STRC</text>
<text class="ml" x="910.8" y="227.8" text-anchor="middle">(Stretch)</text>
<text class="ml" x="910.8" y="234.0" text-anchor="middle">initial</text>
<text class="mw" x="910.8" y="221.6" text-anchor="middle">STRC</text>
<text class="mw" x="910.8" y="227.8" text-anchor="middle">(Stretch)</text>
<text class="mw" x="910.8" y="234.0" text-anchor="middle">initial</text>
<text class="ml" x="961.3" y="153.3" text-anchor="middle">STRE</text>
<text class="ml" x="961.3" y="159.5" text-anchor="middle">(10%</text>
<text class="ml" x="961.3" y="165.7" text-anchor="middle">Stream,</text>
<text class="ml" x="961.3" y="171.9" text-anchor="middle">€)</text>
<text class="mw" x="961.3" y="153.3" text-anchor="middle">STRE</text>
<text class="mw" x="961.3" y="159.5" text-anchor="middle">(10%</text>
<text class="mw" x="961.3" y="165.7" text-anchor="middle">Stream,</text>
<text class="mw" x="961.3" y="171.9" text-anchor="middle">€)</text>
<circle cx="76" cy="535.6" r="3.9" fill="#ee4848"/>
<text x="88.9" y="540.5" font-family="Liberation Sans, Arial, sans-serif" font-size="13.4" letter-spacing="-0.15" stroke="#ececec" stroke-width="0.3" fill="#ececec">Financing Events</text>
<circle cx="204.5" cy="535.6" r="3.6" fill="#5b45da"/>
<text x="217.8" y="540.5" font-family="Liberation Sans, Arial, sans-serif" font-size="13.4" letter-spacing="-0.8" stroke="#ececec" stroke-width="0.3" fill="#ececec">MNAV</text>
<text x="986.6" y="540.1" text-anchor="end" font-family="Liberation Sans, Arial, sans-serif" font-weight="700" font-size="9.3" letter-spacing="-0.1" fill="#a9a3d6">Data as of 2026-01-05 | Source: Blockworks Research</text>
</svg>
</body></html>
